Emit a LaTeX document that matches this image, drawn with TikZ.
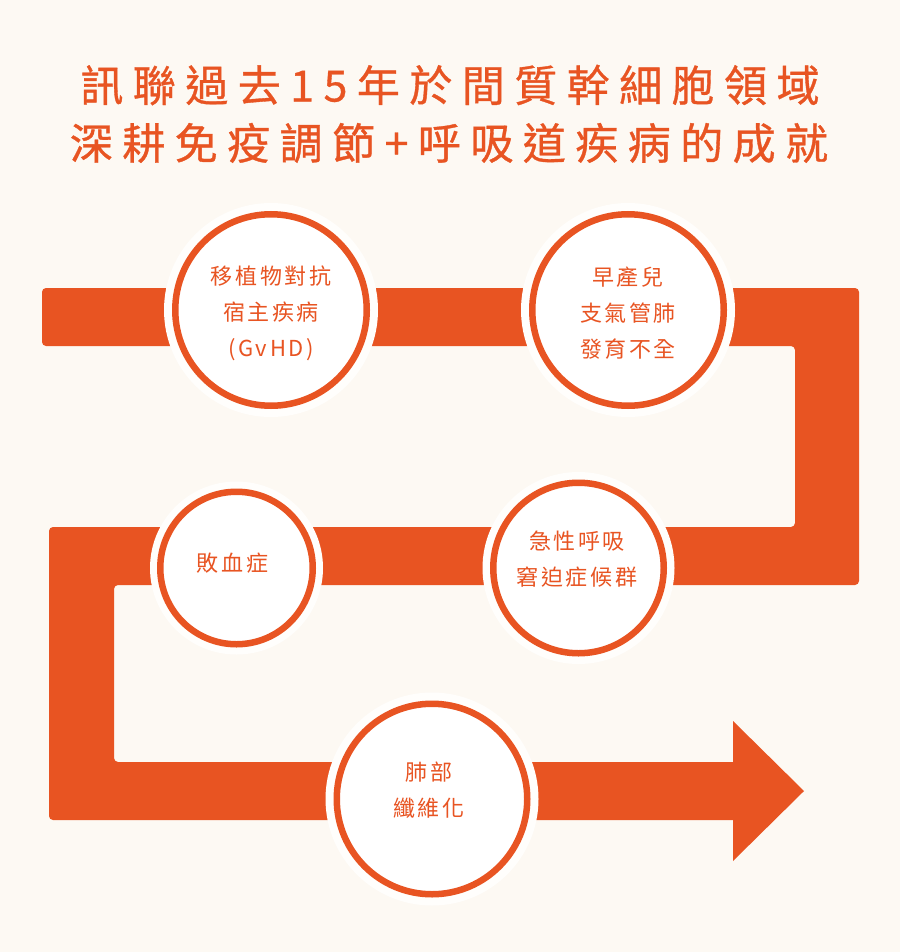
\documentclass[tikz,border=0pt]{standalone}
\usepackage{fontspec}
\newfontfamily\titlefont[LetterSpace=22,FakeBold=0.8]{Noto Sans CJK TC}
\newfontfamily\circfont[LetterSpace=12]{Noto Sans CJK TC}
\definecolor{bgc}{RGB}{253,249,243}
\definecolor{halo}{RGB}{255,254,252}
\definecolor{org}{RGB}{232,84,34}
\tikzset{
  halocirc/.style={circle,fill=halo,draw=none,inner sep=0pt},
  ringcirc/.style={circle,fill=white,draw=org,line width=6.5pt,inner sep=0pt},
  circtext/.style={text=org,align=center,inner sep=0pt,font={\circfont\fontsize{22}{36}\selectfont}},
  titletext/.style={text=org,inner sep=0pt,font={\titlefont\fontsize{43}{58}\selectfont}}
}
\begin{document}
\begin{tikzpicture}[x=1pt,y=-1pt]
\fill[bgc] (0,0) rectangle (900,952);
\useasboundingbox (0,0) rectangle (900,952);
% title
\node[titletext] (title1) at (450,85) {訊聯過去15年於間質幹細胞領域};
\node[titletext] (title2) at (449,143) {深耕免疫調節+呼吸道疾病的成就};
% band
\fill[org,rounded corners=4pt] (400,288) -- (859,288) -- (859,585) -- (114,585) -- (114,762)
  [sharp corners] -- (733,762) -- (733,721) -- (804,791) -- (733,861) -- (733,820)
  [rounded corners=4pt] -- (49,820) -- (49,527) -- (795,527) -- (795,346) -- (42,346) -- (42,288) -- cycle;
% circles
\node[halocirc,minimum size=214pt] (h1) at (271,310) {};
\node[ringcirc,minimum size=191.5pt] (c1) at (271,310) {};
\node[halocirc,minimum size=214pt] (h2) at (628,310) {};
\node[ringcirc,minimum size=191.5pt] (c2) at (628,310) {};
\node[halocirc,minimum size=192pt] (h3) at (578.5,568) {};
\node[ringcirc,minimum size=170.5pt] (c3) at (578.5,568) {};
\node[halocirc,minimum size=173pt] (h4) at (236.5,568) {};
\node[ringcirc,minimum size=152.5pt] (c4) at (236.5,568) {};
\node[halocirc,minimum size=213pt] (h5) at (432,799) {};
\node[ringcirc,minimum size=190.5pt] (c5) at (432,799) {};
% texts
\node[circtext] (t1) at (271,313) {移植物對抗\\宿主疾病\\(GvHD)};
\node[circtext] (t2) at (628,313) {早產兒\\支氣管肺\\發育不全};
\node[circtext] (t3) at (577,559.5) {急性呼吸\\窘迫症候群};
\node[circtext] (t4) at (232.5,563) {敗血症};
\node[circtext] (t5) at (429,790) {肺部\\纖維化};
\end{tikzpicture}
\end{document}
